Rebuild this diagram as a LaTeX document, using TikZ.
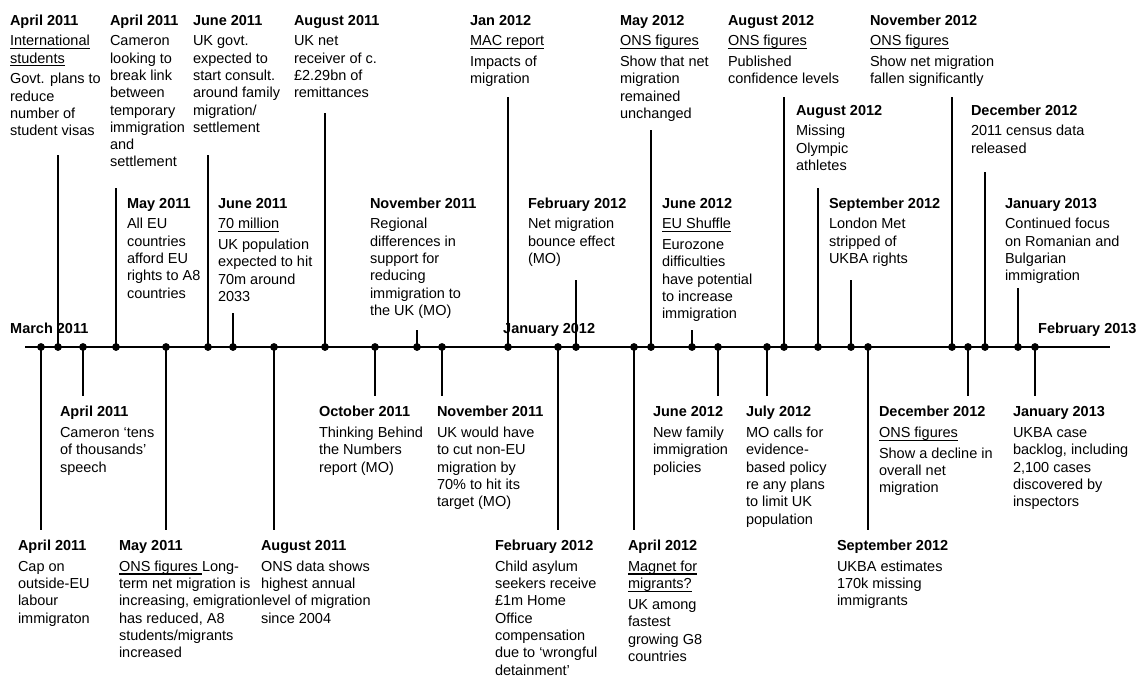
\documentclass[tikz,border=0pt]{standalone}
\usepackage{fontspec}
\setmainfont{Liberation Sans}
\newcommand\evfont{\fontsize{14.5}{17.3}\selectfont}
\newsavebox\ulbox
\newcommand\uln[1]{\sbox\ulbox{#1}\rlap{\rule[-3.2pt]{\wd\ulbox}{1.1pt}}\usebox\ulbox}
\newcommand\ttl[1]{\strut\textbf{#1}}
\tikzset{
  ev/.style={anchor=north west, inner sep=0pt, outer sep=0pt, align=left, font=\evfont},
  axlabel/.style={anchor=base west, inner sep=0pt, font=\evfont\bfseries},
  axisline/.style={line width=1.8pt},
  stem/.style={line width=1.8pt},
  dot/.style={circle, fill=black, inner sep=0pt, minimum size=7.5pt}
}
\begin{document}
\begin{tikzpicture}[x=1pt, y=-1pt]
\useasboundingbox (0,0) rectangle (1143,677);
% axis
\coordinate (axL) at (25,347);
\coordinate (axR) at (1110,347);
\draw[axisline] (axL) -- (axR);
% dots and stems
\foreach \i/\x/\e in {1/41/530, 2/58/155, 3/83/396, 4/116/188, 5/166/530, 6/208/155,
  7/233/313, 8/274/530, 9/325/113, 10/375/396, 11/417/330, 12/442/396, 13/508/97,
  14/558/530, 15/576/280, 16/634/530, 17/651/130, 18/692/330, 19/718/396, 20/767/396,
  21/784/97, 22/818/188, 23/851/280, 24/868/530, 25/952/97, 26/968/396, 27/985/172,
  28/1018/288, 29/1035/396}{
  \coordinate (s\i) at (\x,\e);
  \node[dot] (d\i) at (\x,347) {};
  \draw[stem] (d\i.center) -- (s\i);
  \node[dot] at (d\i.center) {};
}
% axis labels
\node[axlabel] (a1) at (10,333) {March 2011};
\node[axlabel] (a2) at (503,333) {January 2012};
\node[axlabel] (a3) at (1038,333) {February 2013};
% top row
\node[ev] (t1) at (10,12.9) {\ttl{April 2011}\\[3.5pt]\uln{International}\\\uln{students}\\[3.5pt]Govt. plans to\\reduce\\number of\\student visas};
\node[ev] (t2) at (110,12.9) {\ttl{April 2011}\\[3.5pt]Cameron\\looking to\\break link\\between\\temporary\\immigration\\and\\settlement};
\node[ev] (t3) at (193,12.9) {\ttl{June 2011}\\[3.5pt]UK govt.\\expected to\\start consult.\\around family\\migration/\\settlement};
\node[ev] (t4) at (294,12.9) {\ttl{August 2011}\\[3.5pt]UK net\\receiver of c.\\£2.29bn of\\remittances};
\node[ev] (t5) at (470,12.9) {\ttl{Jan 2012}\\[3.5pt]\uln{MAC report}\\[3.5pt]Impacts of\\migration};
\node[ev] (t6) at (620,12.9) {\ttl{May 2012}\\[3.5pt]\uln{ONS figures}\\[3.5pt]Show that net\\migration\\remained\\unchanged};
\node[ev] (t7) at (728,12.9) {\ttl{August 2012}\\[3.5pt]\uln{ONS figures}\\[3.5pt]Published\\confidence levels};
\node[ev] (t8) at (870,12.9) {\ttl{November 2012}\\[3.5pt]\uln{ONS figures}\\[3.5pt]Show net migration\\fallen significantly};
% second row above axis
\node[ev] (t9) at (127,195.9) {\ttl{May 2011}\\[3.5pt]All EU\\countries\\afford EU\\rights to A8\\countries};
\node[ev] (t10) at (218,195.9) {\ttl{June 2011}\\[3.5pt]\uln{70 million}\\[3.5pt]UK population\\expected to hit\\70m around\\2033};
\node[ev] (t11) at (370,195.9) {\ttl{November 2011}\\[3.5pt]Regional\\differences in\\support for\\reducing\\immigration to\\the UK (MO)};
\node[ev] (t12) at (528,195.9) {\ttl{February 2012}\\[3.5pt]Net migration\\bounce effect\\(MO)};
\node[ev] (t13) at (662,195.9) {\ttl{June 2012}\\[3.5pt]\uln{EU Shuffle}\\[3.5pt]Eurozone\\difficulties\\have potential\\to increase\\immigration};
\node[ev] (t14) at (796,102.9) {\ttl{August 2012}\\[3.5pt]Missing\\Olympic\\athletes};
\node[ev] (t15) at (829,195.9) {\ttl{September 2012}\\[3.5pt]London Met\\stripped of\\UKBA rights};
\node[ev] (t16) at (971,102.9) {\ttl{December 2012}\\[3.5pt]2011 census data\\released};
\node[ev] (t17) at (1005,195.9) {\ttl{January 2013}\\[3.5pt]Continued focus\\on Romanian and\\Bulgarian\\immigration};
% first row below axis
\node[ev] (b1) at (60,404.6) {\ttl{April 2011}\\[3.5pt]Cameron ‘tens\\of thousands’\\speech};
\node[ev] (b2) at (319,404.6) {\ttl{October 2011}\\[3.5pt]Thinking Behind\\the Numbers\\report (MO)};
\node[ev] (b3) at (437,404.6) {\ttl{November 2011}\\[3.5pt]UK would have\\to cut non-EU\\migration by\\70\% to hit its\\target (MO)};
\node[ev] (b4) at (653,404.6) {\ttl{June 2012}\\[3.5pt]New family\\immigration\\policies};
\node[ev] (b5) at (746,404.6) {\ttl{July 2012}\\[3.5pt]MO calls for\\evidence-\\based policy\\re any plans\\to limit UK\\population};
\node[ev] (b6) at (879,404.6) {\ttl{December 2012}\\[3.5pt]\uln{ONS figures}\\[3.5pt]Show a decline in\\overall net\\migration};
\node[ev] (b7) at (1013,404.6) {\ttl{January 2013}\\[3.5pt]UKBA case\\backlog, including\\2,100 cases\\discovered by\\inspectors};
% second row below axis
\node[ev] (c1) at (18,538.4) {\ttl{April 2011}\\[3.5pt]Cap on\\outside-EU\\labour\\immigraton};
\node[ev] (c2) at (119,538.4) {\ttl{May 2011}\\[3.5pt]\uln{ONS figures }Long-\\term net migration is\\increasing, emigration\\has reduced, A8\\students/migrants\\increased};
\node[ev] (c3) at (261,538.4) {\ttl{August 2011}\\[3.5pt]ONS data shows\\highest annual\\level of migration\\since 2004};
\node[ev] (c4) at (495,538.4) {\ttl{February 2012}\\[3.5pt]Child asylum\\seekers receive\\£1m Home\\Office\\compensation\\due to ‘wrongful\\detainment’};
\node[ev] (c5) at (628,538.4) {\ttl{April 2012}\\[3.5pt]\uln{Magnet for}\\\uln{migrants?}\\[3.5pt]UK among\\fastest\\growing G8\\countries};
\node[ev] (c6) at (837,538.4) {\ttl{September 2012}\\[3.5pt]UKBA estimates\\170k missing\\immigrants};
\end{tikzpicture}
\end{document}
